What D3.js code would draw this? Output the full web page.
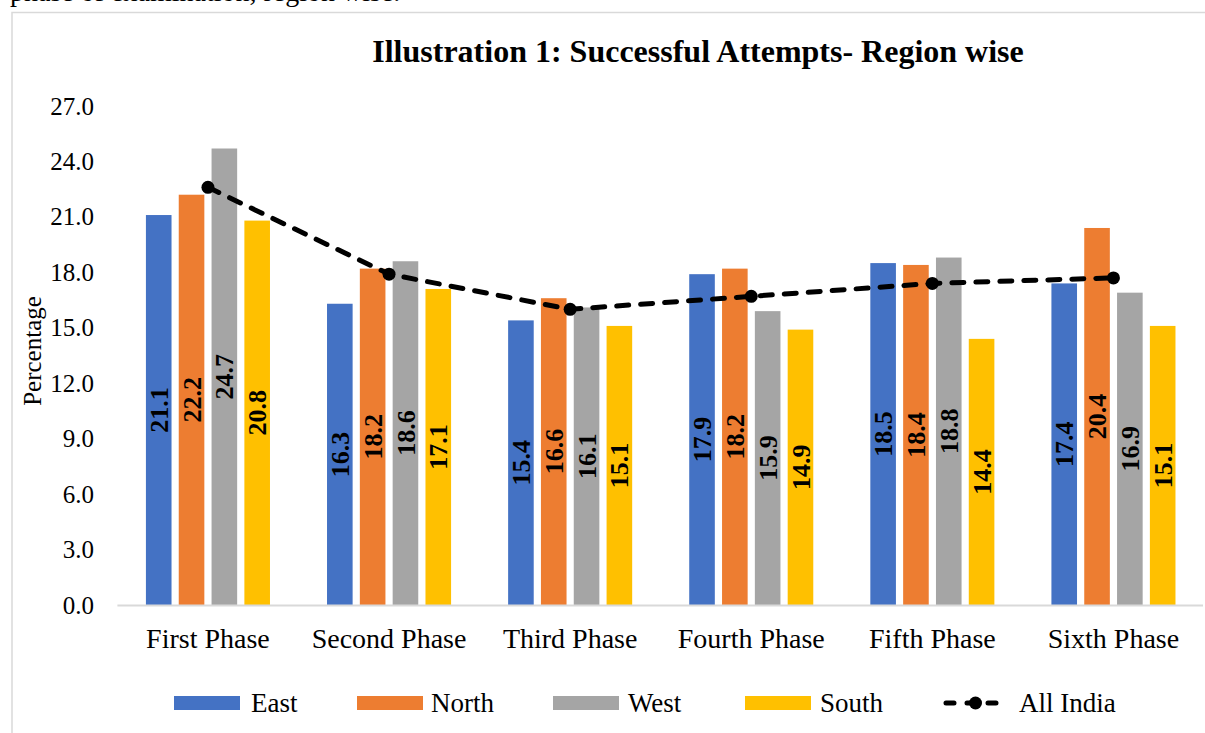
<!DOCTYPE html>
<html>
<head>
<meta charset="utf-8">
<script src="https://cdn.jsdelivr.net/npm/d3@7"></script>
<style>
  html, body { margin: 0; padding: 0; background: #fff; }
  svg { display: block; font-family: "Liberation Serif", "Times New Roman", serif; }
</style>
</head>
<body>
<svg id="chart" width="1205" height="733"></svg>
<script>
const categories = ["First Phase", "Second Phase", "Third Phase", "Fourth Phase", "Fifth Phase", "Sixth Phase"];
const seriesNames = ["East", "North", "West", "South"];
const east  = [21.1, 16.3, 15.4, 17.9, 18.5, 17.4];
const north = [22.2, 18.2, 16.6, 18.2, 18.4, 20.4];
const west  = [24.7, 18.6, 16.1, 15.9, 18.8, 16.9];
const south = [20.8, 17.1, 15.1, 14.9, 14.4, 15.1];
const allIndia = [22.6, 17.9, 16.0, 16.7, 17.4, 17.7];
const yTicks = [0, 3, 6, 9, 12, 15, 18, 21, 24, 27];
const colors = ["#4472C4", "#ED7D31", "#A5A5A5", "#FFC000"];
const lineName = "All India";
const titleText = "Illustration 1: Successful Attempts- Region wise";
const yLabel = "Percentage";
const topText = "phase of examination, region wise.";

const series = [east, north, west, south];
const svg = d3.select("#chart");

// partially visible preceding text line (cut off at the top edge, as in the source)
svg.append("text").attr("x", 10).attr("y", 1).attr("font-size", 28).attr("fill", "#000").text(topText);

// chart frame
svg.append("rect").attr("x", 12).attr("y", 12.5).attr("width", 1300).attr("height", 800)
  .attr("fill", "none").attr("stroke", "#d9d9d9").attr("stroke-width", 1.5);

const plotLeft = 117.4, plotRight = 1204.0, plotTop = 106, plotBottom = 605;

const x0 = d3.scaleBand().domain(categories).range([plotLeft, plotRight]).paddingInner(0.315).paddingOuter(0.1575);
const x1 = d3.scaleBand().domain(seriesNames).range([0, x0.bandwidth()]).paddingInner(0.22).paddingOuter(0);
const y = d3.scaleLinear().domain([0, 27]).range([plotBottom, plotTop]);

// title
svg.append("text").attr("x", 698).attr("y", 62).attr("text-anchor", "middle")
  .attr("font-size", 32).attr("font-weight", "bold").attr("fill", "#000").text(titleText);

// y axis labels
const yAxis = d3.axisLeft(y).tickValues(yTicks).tickFormat(d3.format(".1f")).tickSize(0).tickPadding(0);
const yg = svg.append("g").attr("transform", `translate(94,0)`).call(yAxis);
yg.select(".domain").remove();
yg.selectAll("text").attr("font-size", 25).attr("font-family", "Liberation Serif, serif").attr("fill", "#000");

// y label
svg.append("text").attr("transform", `translate(41,351) rotate(-90)`).attr("text-anchor", "middle")
  .attr("font-size", 25).attr("fill", "#000").text(yLabel);

// bars
const groups = svg.append("g").selectAll("g").data(categories).join("g")
  .attr("transform", d => `translate(${x0(d)},0)`);

seriesNames.forEach((name, si) => {
  groups.append("rect")
    .attr("x", x1(name))
    .attr("width", x1.bandwidth())
    .attr("y", (d, i) => y(series[si][i]))
    .attr("height", (d, i) => y(0) - y(series[si][i]))
    .attr("fill", colors[si]);
  groups.append("text")
    .attr("transform", (d, i) => `translate(${x1(name) + x1.bandwidth() / 2},${(y(0) + y(series[si][i])) / 2}) rotate(-90)`)
    .attr("text-anchor", "middle").attr("dy", "0.35em")
    .attr("font-size", 26).attr("font-weight", "bold").attr("fill", "#000")
    .text((d, i) => series[si][i].toFixed(1));
});

// x axis line
svg.append("line").attr("x1", plotLeft).attr("x2", 1203).attr("y1", plotBottom + 0.5).attr("y2", plotBottom + 0.5)
  .attr("stroke", "#d9d9d9").attr("stroke-width", 2);

// x axis labels
const xAxis = d3.axisBottom(x0).tickSize(0).tickPadding(0);
const xg = svg.append("g").attr("transform", `translate(0,${plotBottom + 23})`).call(xAxis);
xg.select(".domain").remove();
xg.selectAll("text").attr("font-size", 28).attr("font-family", "Liberation Serif, serif").attr("fill", "#000");

// All India line
const cx = d => x0(d) + x0.bandwidth() / 2;
const line = d3.line().x((d, i) => cx(categories[i])).y(d => y(d));
svg.append("path").datum(allIndia).attr("d", line).attr("fill", "none")
  .attr("stroke", "#000").attr("stroke-width", 5).attr("stroke-dasharray", "12,12").attr("stroke-linecap", "round");
svg.append("g").selectAll("circle").data(allIndia).join("circle")
  .attr("cx", (d, i) => cx(categories[i])).attr("cy", d => y(d)).attr("r", 6.5).attr("fill", "#000");

// legend
const legendY = 703;
const legendItems = [
  { name: "East", sx: 174, tx: 251 },
  { name: "North", sx: 357, tx: 431 },
  { name: "West", sx: 553, tx: 628 },
  { name: "South", sx: 745, tx: 820 }
];
const lg = svg.append("g");
legendItems.forEach((it, i) => {
  lg.append("rect").attr("x", it.sx).attr("y", legendY - 7).attr("width", 66).attr("height", 14).attr("fill", colors[i]);
  lg.append("text").attr("x", it.tx).attr("y", legendY).attr("dy", "0.35em").attr("font-size", 27).attr("fill", "#000").text(it.name);
});
lg.append("line").attr("x1", 946).attr("x2", 1006).attr("y1", legendY).attr("y2", legendY)
  .attr("stroke", "#000").attr("stroke-width", 5).attr("stroke-dasharray", "8,13").attr("stroke-linecap", "round");
lg.append("circle").attr("cx", 975.5).attr("cy", legendY).attr("r", 6.5).attr("fill", "#000");
lg.append("text").attr("x", 1019).attr("y", legendY).attr("dy", "0.35em").attr("font-size", 27).attr("fill", "#000").text(lineName);
</script>
</body>
</html>
